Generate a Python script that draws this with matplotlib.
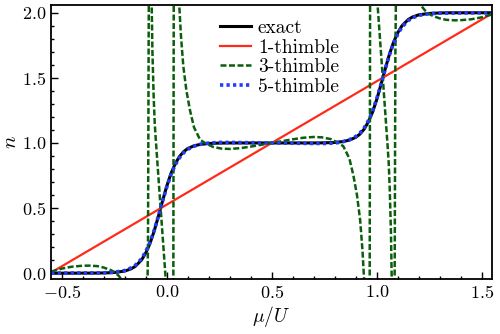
import numpy as np
import matplotlib.pyplot as plt
from matplotlib.ticker import MultipleLocator, FuncFormatter

plt.rcParams.update({'font.family': 'serif', 'font.serif': ['cmr10'],
                     'mathtext.fontset': 'cm', 'axes.formatter.use_mathtext': True})

# exact result
mu_exact = [-0.55, -0.45, -0.35, -0.3, -0.25, -0.2, -0.17, -0.15, -0.12, -0.1, -0.08, -0.06, -0.04, -0.02,
            0.0, 0.02, 0.04, 0.06, 0.08, 0.1, 0.13, 0.16, 0.2, 0.25, 0.3, 0.4, 0.5,
            0.6, 0.7, 0.75, 0.8, 0.84, 0.87, 0.9, 0.92, 0.94, 0.96, 0.98, 1.0, 1.02, 1.04, 1.06, 1.08,
            1.1, 1.12, 1.15, 1.17, 1.2, 1.25, 1.3, 1.35, 1.45, 1.55]
n_exact = [0.0, 0.0, 0.0005, 0.0015, 0.005, 0.016, 0.033, 0.052, 0.101, 0.154, 0.227, 0.322, 0.434, 0.553,
           0.667, 0.764, 0.839, 0.894, 0.932, 0.957, 0.978, 0.989, 0.996, 0.999, 1.0, 1.0, 1.0,
           1.0, 1.0, 1.001, 1.004, 1.011, 1.022, 1.043, 1.068, 1.106, 1.161, 1.236, 1.333, 1.447, 1.566, 1.678, 1.773,
           1.846, 1.899, 1.948, 1.967, 1.984, 1.995, 1.9985, 2.0, 2.0, 2.0]

# 5-thimble (almost on top of exact)
n_5 = [0.0, 0.001, 0.002, 0.003, 0.007, 0.02, 0.04, 0.06, 0.11, 0.165, 0.236, 0.328, 0.436, 0.551,
       0.66, 0.755, 0.83, 0.885, 0.924, 0.951, 0.975, 0.99, 0.999, 1.004, 1.004, 1.002, 1.0,
       0.998, 0.996, 0.996, 0.999, 1.01, 1.025, 1.049, 1.076, 1.115, 1.17, 1.245, 1.34, 1.449, 1.564, 1.672, 1.764,
       1.835, 1.89, 1.94, 1.96, 1.98, 1.993, 1.997, 1.998, 1.999, 2.0]

# 1-thimble
mu_1 = [-0.55, 0.5, 1.55]
n_1 = [0.005, 1.0, 1.995]

# 3-thimble (poles near the two steps, values outside the frame get clipped)
mu_3 = [-0.55, -0.5, -0.45, -0.4, -0.37, -0.33, -0.3, -0.27, -0.25, -0.23, -0.214, -0.19, -0.16, -0.13, -0.1,
        -0.092, -0.089, -0.0875, -0.086, -0.084, -0.08,
        -0.076, -0.074, -0.0715, -0.068, -0.062, -0.057, -0.052, -0.04, -0.029, -0.017, -0.005, 0.005, 0.015,
        0.024, 0.029, 0.0315, 0.0325, 0.0335, 0.038,
        0.05, 0.057, 0.06, 0.068, 0.079, 0.094, 0.111, 0.13, 0.159, 0.182, 0.22, 0.26, 0.3, 0.35, 0.4, 0.45, 0.5,
        0.55, 0.6, 0.65, 0.7, 0.74, 0.78, 0.818, 0.841, 0.87, 0.889, 0.906, 0.921, 0.932, 0.94, 0.943, 0.95,
        0.962, 0.9665, 0.9675, 0.9685, 0.971, 0.976, 0.985, 0.995, 1.005, 1.017, 1.029, 1.04, 1.052, 1.057,
        1.062, 1.068, 1.0715, 1.074, 1.076,
        1.08, 1.084, 1.086, 1.0875, 1.089, 1.092, 1.1, 1.13, 1.16, 1.19, 1.214, 1.23, 1.25, 1.27, 1.3, 1.33,
        1.37, 1.4, 1.45, 1.5, 1.55]
n_3 = [0.012, 0.035, 0.05, 0.057, 0.058, 0.054, 0.043, 0.026, 0.01, -0.018, -0.05, -0.13, -0.35, -0.6, -0.5,
       -0.2, 0.3, 1.0, 1.8, 2.5, 5.0,
       5.0, 2.6, 2.05, 1.7, 1.35, 1.15, 1.025, 0.75, 0.5, 0.23, -0.04, -0.3, -0.55,
       -0.5, -0.3, -0.1, 1.0, 2.1, 5.0,
       4.0, 2.4, 2.05, 1.82, 1.59, 1.4, 1.25, 1.12, 1.025, 1.0, 0.97, 0.957, 0.954, 0.96, 0.972, 0.986, 1.0,
       1.014, 1.028, 1.04, 1.046, 1.043, 1.03, 1.0, 0.975, 0.88, 0.75, 0.6, 0.41, 0.18, -0.05, -0.4, -2.0,
       -3.0, -0.1, 1.0, 2.1, 2.3, 2.5, 2.55, 2.3, 2.04, 1.77, 1.5, 1.25, 0.975, 0.85,
       0.65, 0.3, -0.05, -0.6, -3.0,
       -3.0, -0.5, 0.2, 1.0, 1.7, 2.2, 2.5, 2.6, 2.35, 2.13, 2.05, 2.018, 1.99, 1.974, 1.957, 1.946,
       1.942, 1.943, 1.95, 1.965, 1.988]


fig = plt.figure(figsize=(5, 3.34), dpi=100)
ax = fig.add_axes([0.102, 0.165, 0.882, 0.819])

ax.plot(mu_exact, n_exact, color='black', linewidth=2.2, label='exact')
ax.plot(mu_1, n_1, color='#ff2a1a', linewidth=1.6, label='1-thimble')
ax.plot(mu_3, n_3, color='#0b5e0b', linewidth=1.8, linestyle=(0, (2.4, 1.0)), label='3-thimble')
ax.plot(mu_exact, n_5, color='#1f3cff', linewidth=2.6, linestyle=(0, (0.9, 0.9)), label='5-thimble')

ax.set_xlim(-0.551, 1.549)
ax.set_ylim(-0.044, 2.057)

ax.xaxis.set_major_locator(MultipleLocator(0.5))
ax.xaxis.set_minor_locator(MultipleLocator(0.1))
ax.yaxis.set_major_locator(MultipleLocator(0.5))
ax.yaxis.set_minor_locator(MultipleLocator(0.1))
fmt = FuncFormatter(lambda v, pos: r'$%.1f$' % v)
ax.xaxis.set_major_formatter(fmt)
ax.yaxis.set_major_formatter(fmt)
ax.tick_params(which='both', direction='in', top=False, right=False, labelsize=13, width=1.0)
ax.tick_params(which='major', length=5)
ax.tick_params(which='minor', length=2.5)
for s in ax.spines.values():
    s.set_linewidth(1.3)

ax.set_xlabel(r'$\mu/U$', fontsize=14, labelpad=2)
ax.set_ylabel(r'$n$', fontsize=15, labelpad=1)

ax.legend(loc='upper left', bbox_to_anchor=(0.383, 0.95), frameon=False, fontsize=14,
          handlelength=1.6, handletextpad=0.35, labelspacing=0.09, borderpad=0, borderaxespad=0)

plt.savefig('out.png', dpi=100)
